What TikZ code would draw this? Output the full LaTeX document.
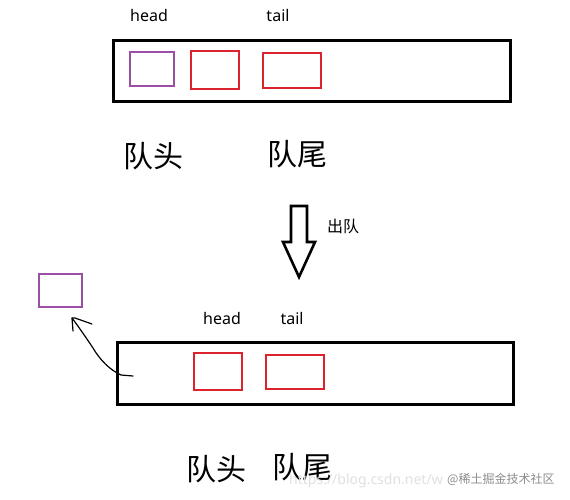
\documentclass[tikz,border=0pt]{standalone}
\usepackage{fontspec}
\setmainfont{Noto Sans}
\newfontfamily\cjk{Noto Sans CJK SC}
\usetikzlibrary{arrows.meta}
\tikzset{
  queuebox/.style={draw=black, line width=3pt},
  redcell/.style={draw=red!80!black, line width=2.6pt},
  purplecell/.style={draw=violet!60!magenta!80!black, line width=2.6pt},
  lbl/.style={font=\fontsize{16}{16}\selectfont, inner sep=0pt},
  cnlbl/.style={font=\cjk\fontsize{30}{30}\selectfont, inner sep=0pt},
}
\definecolor{cellred}{RGB}{220,35,45}
\definecolor{cellpurple}{RGB}{155,80,165}
\begin{document}
\begin{tikzpicture}[x=1pt,y=-1pt]
\useasboundingbox (0,0) rectangle (570,499);
% top queue
\draw[queuebox] (113,40) rectangle (510,101);
\draw[draw=cellpurple, line width=2.6pt] (130,52) rectangle (174,86);
\draw[draw=cellred, line width=2.6pt] (191,51) rectangle (239,89);
\draw[draw=cellred, line width=2.6pt] (263,53) rectangle (321,88);
\node[lbl] (h1) at (149,15) {head};
\node[lbl] (t1) at (278,15) {tail};
\node[cnlbl] (qh1) at (153,156) {队头};
\node[cnlbl] (qt1) at (297,154) {队尾};
% block arrow
\draw[line width=2.6pt, line join=miter] (291,206) -- (307,206) -- (307,242) -- (315,242) -- (299,277) -- (283,242) -- (291,242) -- cycle;
\node[font=\cjk\fontsize{16}{16}\selectfont, inner sep=0pt] (out) at (343,226) {出队};
% removed element
\draw[draw=cellpurple, line width=2.6pt] (39,274) rectangle (82,307);
% bottom queue
\draw[queuebox] (117,342) rectangle (513,404);
\draw[draw=cellred, line width=2.6pt] (194,353) rectangle (242,390);
\draw[draw=cellred, line width=2.6pt] (266,355) rectangle (324,389);
\node[lbl] (h2) at (222,318) {head};
\node[lbl] (t2) at (292,318) {tail};
\node[cnlbl] (qh2) at (216,469) {队头};
\node[cnlbl] (qt2) at (302,467) {队尾};
% curved arrow
\coordinate (cs) at (133,376);
\coordinate (ce) at (72,318);
\draw[line width=1.2pt, line cap=round, line join=round] (cs) -- (121,375) .. controls (110,370) and (100,360) .. (93,348) .. controls (85,336) and (78,326) .. (ce);
\draw[line width=1.2pt, line cap=round, line join=round] (92,324) -- (75,318) -- (ce) -- (73,331);
% watermark
\node[font=\fontsize{14}{14}\selectfont, text=black!12, inner sep=0pt, anchor=west] (wm1) at (289,481) {https://blog.csdn.net/w};
\node[font=\cjk\fontsize{12}{12}\selectfont, text=black!45, inner sep=0pt, anchor=west] (wm2) at (447,479) {@稀土掘金技术社区};
\end{tikzpicture}
\end{document}
